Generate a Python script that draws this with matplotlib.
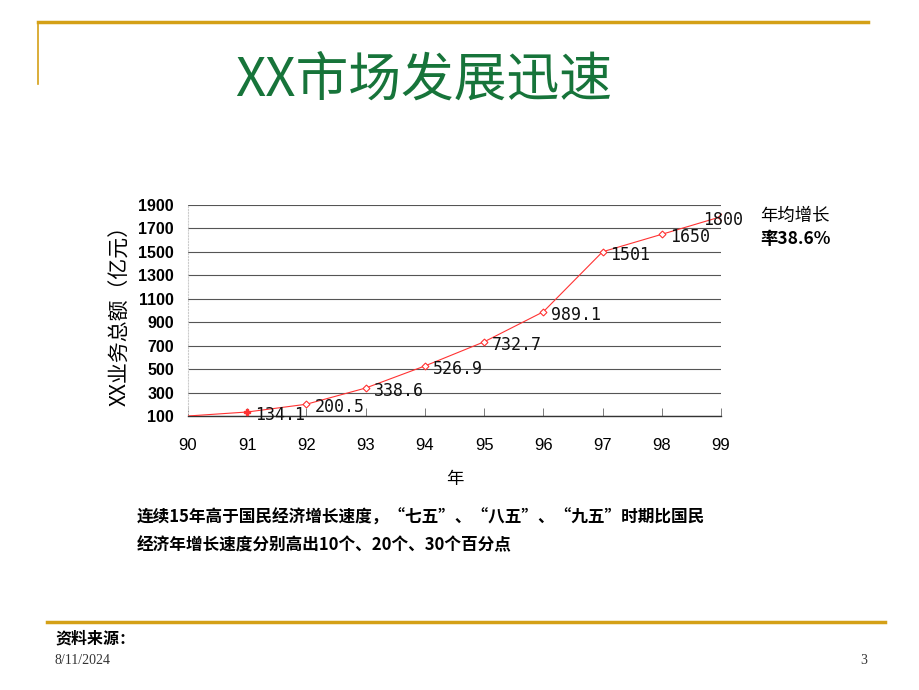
import matplotlib
matplotlib.use("Agg")
import matplotlib.pyplot as plt
from matplotlib.lines import Line2D

plt.rcParams['font.family'] = ['Noto Sans CJK SC', 'DejaVu Sans']

years = [90, 91, 92, 93, 94, 95, 96, 97, 98, 99]
values = [100, 134.1, 200.5, 338.6, 526.9, 732.7, 989.1, 1501, 1650, 1800]
labels = ["", "134.1", "200.5", "338.6", "526.9", "732.7", "989.1", "1501", "1650", "1800"]
yticks = [100, 300, 500, 700, 900, 1100, 1300, 1500, 1700, 1900]
xticks = [90, 91, 92, 93, 94, 95, 96, 97, 98, 99]

W, H = 920, 690
fig = plt.figure(figsize=(W / 100, H / 100), dpi=100)

def fx(x):
    return x / W

def fy(y):
    return 1 - y / H

gold = '#D4A017'
# frame lines
fig.add_artist(Line2D([fx(38), fx(868)], [fy(22), fy(22)], color=gold, lw=2.5))
fig.add_artist(Line2D([fx(38), fx(38)], [fy(22), fy(84)], color=gold, lw=1.2))
fig.add_artist(Line2D([fx(47), fx(885)], [fy(622), fy(622)], color=gold, lw=2.5))

fig.text(fx(424), fy(80), "XX市场发展迅速", color='#17743A', fontsize=38,
         ha='center', va='center', family=['Noto Sans CJK SC', 'DejaVu Serif'])

ax = fig.add_axes([fx(188), fy(416), fx(721) - fx(188), fy(205) - fy(416)])
ax.set_xlim(90, 99)
ax.set_ylim(100, 1900)
ax.set_yticks(yticks)
ax.set_xticks(xticks)
ax.set_yticklabels([str(v) for v in yticks], fontsize=11.5, fontweight='bold',
                   family=['Liberation Sans', 'DejaVu Sans'])
ax.set_xticklabels([str(v) for v in xticks], fontsize=12,
                   family=['Liberation Sans', 'DejaVu Sans'])
ax.grid(axis='y', color='#555555', lw=0.8)
for s in ['top', 'right']:
    ax.spines[s].set_visible(False)
ax.spines['left'].set_color('#cccccc')
ax.spines['left'].set_linestyle(':')
ax.spines['left'].set_linewidth(0.8)
ax.spines['bottom'].set_color('#333333')
ax.spines['bottom'].set_linewidth(1.0)
ax.tick_params(axis='y', length=0, pad=10)
ax.tick_params(axis='x', direction='in', length=6, width=0.6, color='#666666', pad=16)

ax.plot(years, values, color='#FF3333', lw=0.8, zorder=3)
ax.plot(years[2:], values[2:], ls='none', marker='D', ms=3.5, mfc='white',
        mec='#FF3333', mew=0.8, zorder=4)
ax.plot(years[1:2], values[1:2], ls='none', marker='P', ms=5, color='#FF3333', zorder=4)

for i, (x, v, t) in enumerate(zip(years, values, labels)):
    if not t:
        continue
    dx = 8 if t != "1800" else -18
    ax.annotate(t, (x, v), xytext=(dx, -3), textcoords='offset pixels',
                ha='left', va='center', fontsize=12, family='DejaVu Sans Mono',
                color='#111111', zorder=5, annotation_clip=False)

ax.set_ylabel("XX业务总额（亿元）", fontsize=15, labelpad=5)
ax.set_xlabel("年", fontsize=12.5, labelpad=12)

fig.text(fx(760), fy(216), "年均增长", fontsize=12.5, va='center', ha='left')
fig.text(fx(760), fy(239), "率38.6%", fontsize=12.5, va='center', ha='left', fontweight='bold',
         family=['Noto Sans CJK SC', 'DejaVu Serif'])

fig.text(fx(137), fy(518), "连续15年高于国民经济增长速度，“七五”、“八五”、“九五”时期比国民",
         fontsize=12, fontweight='bold', va='center', ha='left')
fig.text(fx(137), fy(545), "经济年增长速度分别高出10个、20个、30个百分点",
         fontsize=12, fontweight='bold', va='center', ha='left')

fig.text(fx(55), fy(638), "资料来源：", fontsize=11.5, fontweight='bold', va='center', ha='left')
fig.text(fx(55), fy(660), "8/11/2024", fontsize=10, va='center', ha='left',
         family=['Liberation Serif', 'DejaVu Serif'], color='#333333')
fig.text(fx(860), fy(660), "3", fontsize=10, va='center', ha='left',
         family=['Liberation Serif', 'DejaVu Serif'], color='#333333')

fig.savefig("out.png", dpi=100)
